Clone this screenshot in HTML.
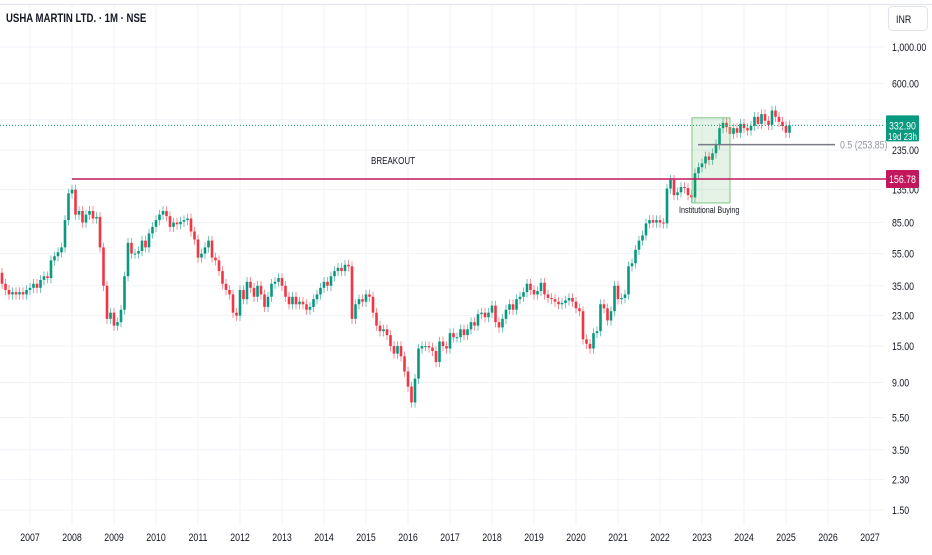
<!DOCTYPE html>
<html><head><meta charset="utf-8">
<style>
html,body{margin:0;padding:0;background:#fff;}
body{width:932px;height:550px;overflow:hidden;font-family:"Liberation Sans",sans-serif;}
svg text{font-family:"Liberation Sans",sans-serif;}
</style></head>
<body>
<svg id="chart" width="932" height="550" viewBox="0 0 932 550" xmlns="http://www.w3.org/2000/svg">
  <g id="grid"></g>
  <g id="yaxis"></g>
  <g id="xaxis"></g>
  <g id="candles"></g>
  <g id="overlays"></g>
  <line x1="0" y1="4.5" x2="932" y2="4.5" stroke="#e0e3eb"/>
  <text class="cond" x="6" y="22" font-size="12" font-weight="bold" fill="#131722">USHA MARTIN LTD. · 1M · NSE</text>
  <rect x="888.5" y="6.5" width="39" height="24" rx="4" fill="#fff" stroke="#e0e3eb"/>
  <text class="cond" x="896" y="23" font-size="11" fill="#131722">INR</text>
</svg>
<script>
// Monthly closes starting April 2006
const startYear = 2006, startMonth = 3;
const closes = [
42,36,33,31,32,31,32,31,33,34,36,34,38,40,39,50,53,56,60,88,128,
135,95,100,85,95,100,90,92,60,35,22,24,20,21,25,40,64,55,55,57,66,60,73,80,88,95,100,93,80,85,83,86,88,90,75,67,52,55,60,66,52,50,43,36,33,31,24,23,33,29,
37,34,30,35,31,26,30,36,37,39,35,30,27,30,27,28,27,25,26,29,31,34,37,35,40,43,45,43,47,46,22,27,29,28,31,30,24,20,18.5,19,17.5,15,13.5,15,13,10.5,8.5,6.8,9.5,14.5,15,15,14.7,14,12,16,15,14.5,18,17,17,19,17.5,19,21,20,23.5,24,22.5,
24,26.5,21,19.5,22,25,27,25,29,30,32,36,33,31,32.5,36.5,31,29.5,29,28,27,27.5,28.5,29.5,28,25.5,24.5,16.5,15.5,14.5,18,18.5,27,25.5,21.5,24.5,35,29,29.5,31,46,48,58,66,71,84,88,85,88,85,84,137,155,
125,130,140,138,125,121,170,185,195,215,205,225,255,320,345,325,295,320,300,340,320,310,330,375,340,390,355,335,410,375,350,330,300,332.9
];
const firstOpen = 44;
const priceTicks = [1000,600,360,235,135,85,55,35,23,15,9,5.5,3.5,2.3,1.5];
const yearLabels = [2007,2008,2009,2010,2011,2012,2013,2014,2015,2016,2017,2018,2019,2020,2021,2022,2023,2024,2025,2026,2027];
const lastPrice = 332.90, breakoutPrice = 156.78, fibPrice = 253.85;

const NS = "http://www.w3.org/2000/svg";
function yOf(p){ return 47 + (3 - Math.log10(p)) * 164; }
function xOf(i){ return 72 + (i - 21) * 3.5; }
function monthIndex(y,m){ return (y - startYear) * 12 + (m - startMonth); }
function mk(tag, attrs, parent){ const e=document.createElementNS(NS,tag); for(const k in attrs) e.setAttribute(k,attrs[k]); parent.appendChild(e); return e; }

const grid=document.getElementById('grid'), cg=document.getElementById('candles'), ov=document.getElementById('overlays'), ya=document.getElementById('yaxis'), xa=document.getElementById('xaxis');

priceTicks.forEach(p=>{
  const y=yOf(p);
  const l=mk('line',{x1:0,x2:884,y1:y,y2:y,stroke:'#f0f3fa','stroke-width':1},grid);
  
  
  const t=mk('text',{x:892,y:y+4,'font-size':11,fill:'#131722','class':'cond'},ya);
  t.textContent=p.toLocaleString('en-US',{minimumFractionDigits:2,maximumFractionDigits:2});
  
  
});
yearLabels.forEach(yr=>{
  const x=xOf(monthIndex(yr,0));
  const l=mk('line',{x1:x,x2:x,y1:5,y2:525,stroke:'#f0f3fa','stroke-width':1},grid);
  
  
  const t=mk('text',{x:x,y:541,'font-size':11,fill:'#131722','text-anchor':'middle','class':'cond'},xa);
  t.textContent=yr;
  
  
});

let prev=firstOpen;
closes.forEach((c,i)=>{
  const o=prev; prev=c;
  const up=c>=o, col=up?'#089981':'#f23645';
  const hi=Math.max(o,c)*1.07, lo=Math.min(o,c)*0.93;
  const x=xOf(i);
  const g=mk('g',{},cg);
  
  
  mk('line',{x1:x,x2:x,y1:yOf(hi),y2:yOf(lo),stroke:col,'stroke-width':1,opacity:0.55},g);
  const yt=yOf(Math.max(o,c)), yb=yOf(Math.min(o,c));
  mk('rect',{x:x-1.3,y:yt,width:2.6,height:Math.max(1,yb-yt),fill:col},g);
});

// overlays
const ylp=yOf(lastPrice), ybo=yOf(breakoutPrice), yfib=yOf(fibPrice);
let e;
e=mk('line',{x1:0,x2:885,y1:ylp,y2:ylp,stroke:'#089981','stroke-width':1,'stroke-dasharray':'1 2'},ov);
 
e=mk('rect',{x:692,y:yOf(370),width:38,height:yOf(112)-yOf(370),fill:'rgba(76,175,80,0.15)',stroke:'#81c784','stroke-width':1},ov);
 
e=mk('text',{x:679,y:213,'font-size':9,fill:'#131722','class':'cond'},ov); e.textContent='Institutional Buying';
 
e=mk('line',{x1:698,x2:835,y1:yfib,y2:yfib,stroke:'#787b86','stroke-width':1.5},ov);
 
e=mk('text',{x:840,y:yfib+4,'font-size':11,fill:'#9598a1','class':'cond'},ov); e.textContent='0.5 (253.85)';
 
e=mk('line',{x1:72,x2:886,y1:ybo,y2:ybo,stroke:'#c2185b','stroke-width':1.5},ov);
 
e=mk('text',{x:393,y:164,'font-size':10,fill:'#131722','text-anchor':'middle','class':'cond'},ov); e.textContent='BREAKOUT';
 
e=mk('rect',{x:886,y:ylp-10,width:33,height:26,fill:'#089981',rx:1},ov);
 
e=mk('text',{x:902.5,y:ylp+4,'font-size':11,fill:'#fff','text-anchor':'middle','class':'cond'},ov); e.textContent='332.90';
 
e=mk('text',{x:902.5,y:ylp+14.5,'font-size':10,fill:'#fff','text-anchor':'middle','class':'cond'},ov); e.textContent='19d 23h';
 
e=mk('rect',{x:886,y:ybo-9,width:33,height:18,fill:'#c2185b',rx:1},ov);
 
e=mk('text',{x:902.5,y:ybo+4,'font-size':11,fill:'#fff','text-anchor':'middle','class':'cond'},ov); e.textContent='156.78';
 

// condense text to mimic the narrow UI font
document.querySelectorAll('text.cond').forEach(t=>{
  const w=t.getComputedTextLength();
  t.setAttribute('textLength', (w*0.8).toFixed(1));
  t.setAttribute('lengthAdjust','spacingAndGlyphs');
});
</script>
</body></html>
